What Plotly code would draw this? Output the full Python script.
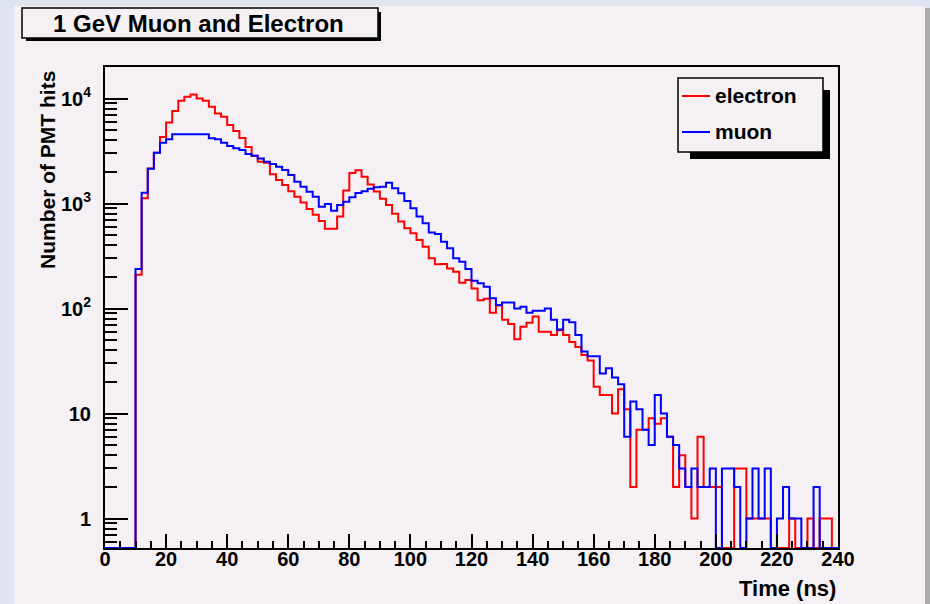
import math
import plotly.graph_objects as go

# Time histogram: 120 bins of 2 ns from 0 to 240 ns
bin_width = 2
t_left = list(range(0, 240, bin_width))

electron_hits = [
    0, 0, 0, 0, 0, 210, 1120, 2150, 3050, 4300,
    5900, 7600, 9500, 10400, 10900, 10000, 9500, 8350, 7200, 6700,
    5600, 4900, 4200, 3450, 2850, 2500, 2450, 1900, 1675, 1500,
    1310, 1160, 1020, 885, 780, 680, 575, 575, 750, 1330,
    1950, 2070, 1800, 1520, 1300, 1110, 970, 800, 672, 581,
    520, 450, 388, 301, 264, 265, 241, 224, 176, 187,
    155, 120, 124, 91, 107, 78, 71, 51, 67, 73,
    84, 60, 60, 56, 62, 56, 48, 43, 36, 32,
    18, 15, 15, 10, 17, 11, 2, 7, 7, 9,
    8, 9, 6, 2, 4, 2, 1, 6, 2, 2,
    2, 0, 0, 3, 3, 1, 1, 1, 1, 0,
    0, 0, 1, 0, 0, 1, 0, 1, 1, 0,
]

muon_hits = [
    0, 0, 0, 0, 0, 238, 1268, 2144, 3048, 3793,
    4085, 4560, 4560, 4560, 4560, 4560, 4560, 4180, 4100, 3793,
    3530, 3355, 3235, 2960, 2850, 2690, 2500, 2376, 2240, 2083,
    1867, 1613, 1445, 1296, 1162, 933, 989, 855, 968, 1041,
    1145, 1258, 1310, 1380, 1430, 1445, 1578, 1397, 1251, 1057,
    900, 750, 647, 528, 512, 433, 374, 301, 279, 238,
    184, 174, 161, 125, 108, 114, 114, 100, 104, 91,
    95, 95, 100, 78, 63, 78, 74, 56, 39, 35,
    35, 24, 27, 22, 19, 6, 13, 11, 7, 5,
    15, 10, 6, 5, 3, 2, 3, 2, 2, 3,
    0, 3, 3, 2, 0, 1, 3, 1, 3, 0,
    1, 2, 1, 1, 0, 0, 2, 0, 0, 0,
]

series = [("electron", electron_hits, "#ff0000"), ("muon", muon_hits, "#0000ff")]

x_ticks = list(range(0, 241, 20))
y_tickvals = [1, 10, 100, 1000, 10000]
y_ticktext = ["1", "10", "10<sup>2</sup>", "10<sup>3</sup>", "10<sup>4</sup>"]

# log10 limits of the vertical axis
Y_LOG_MIN, Y_LOG_MAX = -0.281, 4.30
y_floor = 10 ** Y_LOG_MIN

W, H = 930, 604
L, R, T, B = 105, 838, 67, 548  # frame of the histogram pad

CANVAS = "#f4f0f4"
OUTER = "#dee5f0"
FONT = "Liberation Sans"


def fx(px):
    return (px - L) / (R - L)


def fy(py):
    return (B - py) / (B - T)


fig = go.Figure()

for name, counts, color in series:
    edges = t_left + [t_left[-1] + bin_width]
    # empty bins sit on the lower frame edge of the log axis
    levels = [c if c > 0 else y_floor for c in counts]
    fig.add_trace(go.Scatter(
        x=edges, y=levels + [levels[-1]],
        mode="lines", line=dict(color=color, width=2, shape="hv"),
        name=name, showlegend=False, hoverinfo="skip",
    ))

minor_y = [m * 10 ** e for e in range(-1, 5) for m in range(2, 10)
           if Y_LOG_MIN <= math.log10(m * 10 ** e) <= Y_LOG_MAX]

tick_font = dict(family=FONT, size=20, color="black", weight="bold")

fig.update_xaxes(
    range=[0, 240], tickvals=x_ticks, ticks="inside", ticklen=14, tickwidth=2,
    tickcolor="black", minor=dict(dtick=5, tick0=0, ticks="inside", ticklen=7,
                                  tickwidth=2, tickcolor="black"),
    showline=True, linewidth=2, linecolor="black", mirror=True,
    showgrid=False, zeroline=False, tickfont=tick_font, ticklabelstandoff=-8,
)
fig.update_yaxes(
    type="log", range=[Y_LOG_MIN, Y_LOG_MAX], tickvals=y_tickvals,
    ticktext=y_ticktext, ticks="inside", ticklen=23, tickwidth=2,
    tickcolor="black",
    minor=dict(tickmode="array", tickvals=minor_y, ticks="inside", ticklen=12,
               tickwidth=2, tickcolor="black"),
    showline=True, linewidth=2, linecolor="black", mirror=True,
    showgrid=False, zeroline=False, tickfont=tick_font, ticklabelstandoff=8,
)


def rect(x0, y0, x1, y1, fill, line_w=0, layer="above"):
    return dict(type="rect", xref="paper", yref="paper",
                x0=fx(x0), x1=fx(x1), y0=fy(y1), y1=fy(y0),
                fillcolor=fill, layer=layer,
                line=dict(color="black", width=line_w))


shapes = [
    rect(14, 6, 925, 610, CANVAS, layer="below"),
    rect(925, 8, 931, 610, "#ababab", layer="below"),
    # title box with drop shadow
    rect(26, 12, 381, 41, "black"),
    rect(22, 8, 378, 38, CANVAS, 1.5),
    # legend box with drop shadow
    rect(690, 90, 830, 159, "black"),
    rect(678, 78, 823, 152, CANVAS, 1.5),
]
legend_rows = [96, 132]
for (name, _, color), row in zip(series, legend_rows):
    shapes.append(dict(type="line", xref="paper", yref="paper",
                       x0=fx(682), x1=fx(710), y0=fy(row), y1=fy(row),
                       line=dict(color=color, width=2)))

annotations = [
    dict(text="1 GeV Muon and Electron", x=fx(198), y=fy(24),
         xanchor="center", yanchor="middle",
         font=dict(family=FONT, size=24, color="black", weight="bold")),
    dict(text="Time (ns)", x=fx(838), y=fy(588), xanchor="right",
         yanchor="middle",
         font=dict(family=FONT, size=22, color="black", weight="bold")),
    dict(text="Number of PMT hits", x=fx(47), y=fy(69), xanchor="center",
         yanchor="top", textangle=-90,
         font=dict(family=FONT, size=21, color="black", weight="bold")),
]
for (name, _, _), row in zip(series, legend_rows):
    annotations.append(dict(text=name, x=fx(713), y=fy(row), xanchor="left",
                            yanchor="middle",
                            font=dict(family=FONT, size=21, color="black",
                                      weight="bold")))
for a in annotations:
    a.update(xref="paper", yref="paper", showarrow=False)

fig.update_layout(
    width=W, height=H, autosize=False,
    margin=dict(l=L, r=W - R, t=T, b=H - B, pad=0),
    paper_bgcolor=OUTER, plot_bgcolor=CANVAS,
    shapes=shapes, annotations=annotations,
    showlegend=False, hovermode=False,
)

fig.write_html("out.html")
